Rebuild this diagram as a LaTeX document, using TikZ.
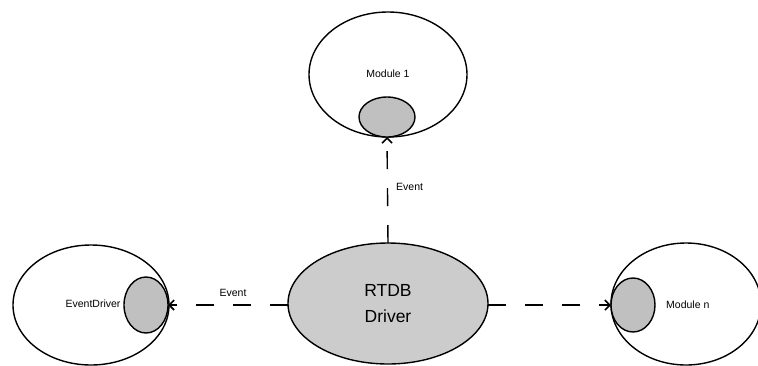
\documentclass[tikz,border=0pt]{standalone}
\usepackage{fontspec}
\setmainfont{Liberation Sans}
\usetikzlibrary{arrows.meta}
\definecolor{hubgray}{HTML}{CCCCCC}
\definecolor{portgray}{HTML}{C0C0C0}
\begin{document}
\begin{tikzpicture}[x=1pt,y=-1pt,
  port/.style={draw=black,line width=1.4pt,fill=portgray},
  hub/.style={draw=black,line width=1.4pt,fill=hubgray},
  evline/.style={line width=1.4pt,dash pattern=on 18pt off 19pt,
    -{Straight Barb[length=5pt,width=10pt,line width=1.6pt]}},
  lbl/.style={font=\fontsize{10.5}{12}\selectfont,inner sep=0pt},
  biglbl/.style={font=\fontsize{17.5}{26}\selectfont,align=center}]
\useasboundingbox (0,0) rectangle (758,365);

% Module 1
\draw[line width=1.4pt] (388,74.5) ellipse [x radius=79,y radius=62.5];
\node[lbl] (m1) at (388,74) {Module 1};
\draw[port] (387,117) ellipse [x radius=28,y radius=20];
\coordinate (m1port) at (387,137);

% EventDriver
\draw[line width=1.4pt] (91,305) ellipse [x radius=78,y radius=60];
\node[lbl] (ed) at (93,304) {EventDriver};
\draw[port] (146,305) ellipse [x radius=22,y radius=28];
\coordinate (edport) at (168,305);

% Module n
\draw[line width=1.4pt] (686,304) ellipse [x radius=75,y radius=61];
\node[lbl,anchor=west] (mn) at (666,305) {Module n};
\draw[port] (633,305) ellipse [x radius=22,y radius=27];
\coordinate (mnport) at (611,305);

% RTDB driver
\draw[hub] (388,303.5) ellipse [x radius=100,y radius=60.5];
\node[biglbl] (hub) at (388,304) {RTDB\\Driver};
\coordinate (hubT) at (388,243);
\coordinate (hubL) at (288,305);
\coordinate (hubR) at (488,305);

% Events
\draw[evline] (hubT) -- (m1port);
\node[lbl,anchor=west] (e1) at (396,187) {Event};
\draw[evline] (hubL) -- (edport);
\node[lbl] (e2) at (233,293) {Event};
\draw[evline] (hubR) -- (mnport);
\end{tikzpicture}
\end{document}
